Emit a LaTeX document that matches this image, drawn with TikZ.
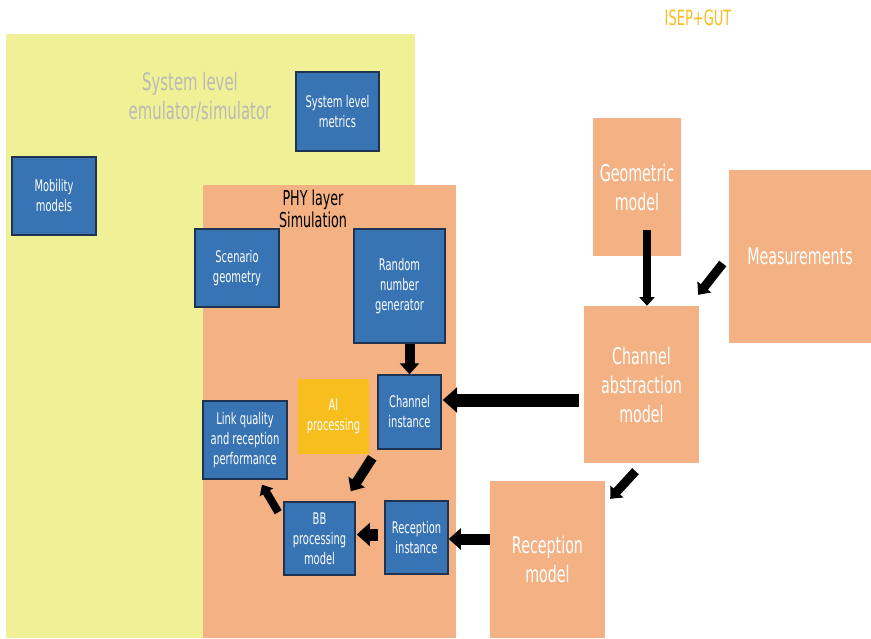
\documentclass[tikz,border=0pt]{standalone}
\usepackage{fontspec}
\setmainfont{DejaVu Sans}[FakeStretch=0.62]
\usetikzlibrary{arrows.meta,calc}

\definecolor{sysyellow}{HTML}{F0F096}
\definecolor{peach}{HTML}{F4B183}
\definecolor{boxblue}{HTML}{3873B3}
\definecolor{boxline}{HTML}{1F3350}
\definecolor{gold}{HTML}{F8BE1E}
\definecolor{lightgray}{HTML}{BABAB6}

\begin{document}
\begin{tikzpicture}[x=1pt, y=-1pt,
	bluebox/.style={draw=boxline, line width=1.5pt, fill=boxblue, text=white, align=center, inner sep=0pt, font=\fontsize{16}{20}\selectfont},
	peachbox/.style={fill=peach, text=white, align=center, inner sep=0pt, font=\fontsize{23}{29}\selectfont},
	blk/.style={line width=#1, -{Triangle[length=0pt 1.1, width=0pt 1.9]}},
	blk/.default=10pt]
	
	\useasboundingbox[fill=white] (0,0) rectangle (871,638);
	
	% Areas
	\fill[sysyellow] (6,34) rectangle (415,638);
	\fill[peach] (203,185) rectangle (456,638);
	\node[text=lightgray, align=center, font=\fontsize{24}{29}\selectfont] (syslbl) at (200,97) {System level\hspace*{20pt}\\emulator/simulator};
	\node[align=center, font=\fontsize{20.5}{22}\selectfont] (phylbl) at (313,209) {PHY layer\\Simulation};
	\node[text=gold, font=\fontsize{21}{25}\selectfont] (isep) at (698,18) {ISEP+GUT};
	
	% Nodes
	\node[bluebox, minimum width=83pt, minimum height=79pt] (sysm) at (337.5,111.5) {System level\\metrics};
	\node[bluebox, minimum width=84pt, minimum height=78pt] (mob) at (54,196) {Mobility\\models};
	\node[bluebox, minimum width=84pt, minimum height=78pt] (scen) at (237,268) {Scenario\\geometry};
	\node[bluebox, minimum width=91pt, minimum height=114pt] (rng) at (399.5,286) {Random\\number\\generator};
	\node[bluebox, minimum width=63pt, minimum height=74pt] (chinst) at (409.5,412) {Channel\\instance};
	\node[fill=gold, text=white, align=center, inner sep=0pt, font=\fontsize{16}{20}\selectfont, minimum width=71pt, minimum height=75pt] (ai) at (333.5,416.5) {AI\\processing};
	\node[bluebox, minimum width=84pt, minimum height=78pt] (linkq) at (245,440) {Link quality\\and reception\\performance};
	\node[bluebox, minimum width=71pt, minimum height=73pt] (bb) at (319.5,538.5) {BB\\processing\\model};
	\node[bluebox, minimum width=63pt, minimum height=73pt] (rxinst) at (416.5,537.5) {Reception\\instance};
	
	\node[peachbox, minimum width=88pt, minimum height=138pt] (geo) at (637,187) {Geometric\\model};
	\node[peachbox, minimum width=142pt, minimum height=173pt] (meas) at (800,256.5) {Measurements};
	\node[peachbox, minimum width=115pt, minimum height=157pt] (cam) at (641.5,384.5) {Channel\\abstraction\\model};
	\node[peachbox, minimum width=115pt, minimum height=157pt] (rxmod) at (547.5,559.5) {Reception\\model};
	
	% Edges
	\draw[blk=8pt, shorten <=-26pt] ([xshift=10pt]geo.south) -- ([xshift=5.5pt]cam.north);
	\draw[blk=9pt] ($(meas.west)+(-6,7)$) -- ($(cam.north east)+(-1,-11)$);
	\draw[blk=13pt] ($(cam.west)+(-5,15.5)$) -- ($(chinst.east)+(1,-12)$);
	\draw[blk=10pt] ([xshift=10pt]rng.south) -- (chinst.north);
	\draw[blk=10pt] ($(chinst.south west)+(-5,8)$) -- ($(bb.north east)+(-5,-10)$);
	\draw[blk=8pt] ($(bb.north west)+(-5,11)$) -- ($(linkq.south)+(17,5)$);
	\draw[blk=12pt] ($(rxinst.west)+(-6,-3)$) -- ($(bb.east)+(1,-4)$);
	\draw[blk=11pt] ($(rxmod.west)+(0,-20.5)$) -- ($(rxinst.east)+(0,1.5)$);
	\draw[blk=9pt] ($(cam.south)+(-6,8)$) -- ($(rxmod.north east)+(5,18)$);
	
\end{tikzpicture}
\end{document}
